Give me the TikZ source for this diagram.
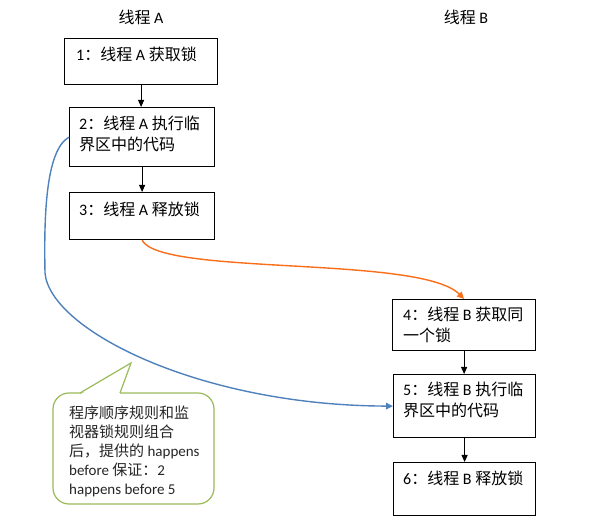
\documentclass[tikz,border=0pt]{standalone}
\usepackage{fontspec}
\setmainfont{Carlito}
\newfontfamily\zhfont{Noto Sans CJK SC}
\newcommand{\zh}[1]{{\zhfont #1}}
\usetikzlibrary{arrows.meta}
\definecolor{orangeline}{RGB}{250,110,25}
\definecolor{blueline}{RGB}{79,129,189}
\definecolor{greenline}{RGB}{155,187,89}
\begin{document}
\begin{tikzpicture}[x=1pt,y=-1pt,
  stepbox/.style={draw=black,line width=1.2pt,inner sep=0pt,anchor=north west},
  boxtext/.style={anchor=base west,inner sep=0pt,font=\fontsize{16}{21}\selectfont},
  calltext/.style={anchor=base west,inner sep=0pt,font=\fontsize{15}{19}\selectfont,text=black!85},
  title/.style={inner sep=0pt,font=\fontsize{16}{20}\selectfont},
  arr/.style={-{Triangle[length=7pt,width=6pt]},line width=1pt,black},
  orangearr/.style={-{Triangle[length=7pt,width=6.5pt]},line width=1.4pt,orangeline},
  bluearr/.style={-{Triangle[length=7pt,width=6.5pt]},line width=1.4pt,blueline},
  callout/.style={draw=greenline,line width=1.2pt}]
\useasboundingbox (0,0) rectangle (600,526);

\node[title] (ta) at (141,17) {\zh{线程} A};
\node[title] (tb) at (466,17) {\zh{线程} B};

\node[stepbox,minimum width=153pt,minimum height=46pt] (b1) at (64,38) {};
\node[stepbox,minimum width=145pt,minimum height=59pt] (b2) at (69,107) {};
\node[stepbox,minimum width=145pt,minimum height=47pt] (b3) at (69,192) {};
\node[stepbox,minimum width=143pt,minimum height=51pt] (b4) at (392,299) {};
\node[stepbox,minimum width=142pt,minimum height=63pt] (b5) at (393,374) {};
\node[stepbox,minimum width=142pt,minimum height=53pt] (b6) at (393,462) {};

\node[boxtext] (t1) at (76,61) {1\zh{：线程} A \zh{获取锁}};
\node[boxtext] (t2) at (79,130) {\parbox[t]{140pt}{2\zh{：线程} A \zh{执行临}\\\zh{界区中的代码}}};
\node[boxtext] (t3) at (79,216) {3\zh{：线程} A \zh{释放锁}};
\node[boxtext] (t4) at (403,321) {\parbox[t]{140pt}{4\zh{：线程} B \zh{获取同}\\\zh{一个锁}}};
\node[boxtext] (t5) at (403,396) {\parbox[t]{140pt}{5\zh{：线程} B \zh{执行临}\\\zh{界区中的代码}}};
\node[boxtext] (t6) at (403,485) {6\zh{：线程} B \zh{释放锁}};

\draw[arr] (b1.south) -- (b1.south |- b2.north);
\draw[arr] (b2.south) -- (b3.north);
\draw[arr] (b4.south) -- (b4.south |- b5.north);
\draw[arr] (b5.south) -- (b6.north);

\draw[orangearr] (b3.south) .. controls +(18.5,36) and +(-43.5,-44) .. (b4.north);
\draw[bluearr] (b2.west) .. controls +(-24,13.5) and +(-1,-53) .. (45,273)
  .. controls +(5,57) and +(-193,-0.5) .. (b5.west);

% callout
\draw[callout,fill=white,rounded corners=16pt] (53,393) rectangle (214,504);
\fill[white] (80.6,394.4) -- (131,363) -- (119.6,394.4) -- cycle;
\draw[callout,line join=miter] (80,393) -- (131,363) -- (120,393);
\node[calltext] (ct) at (69,418.5) {\parbox[t]{150pt}{\zh{程序顺序规则和监}\\\zh{视器锁规则组合}\\\zh{后，提供的} happens\\before \zh{保证：}2\\happens before 5}};
\end{tikzpicture}
\end{document}
